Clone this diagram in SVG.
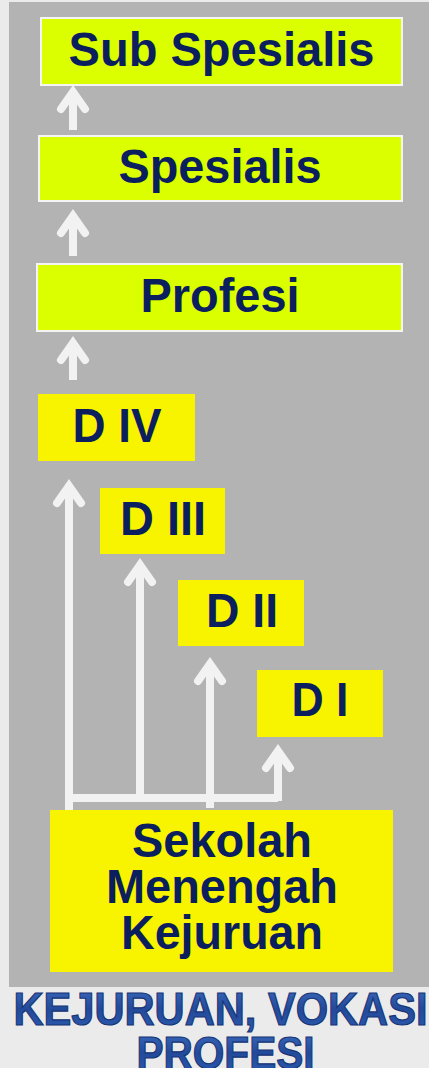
<svg xmlns="http://www.w3.org/2000/svg" width="429" height="1068" viewBox="0 0 429 1068">
  <style>
    .panel { fill: #b3b3b3; }
    .green { fill: #dcff00; stroke: #f4f4f4; stroke-width: 2; }
    .yellow { fill: #f8f400; }
    .lbl { font-family: "Liberation Sans", Arial, sans-serif; font-weight: bold; font-size: 48px; fill: #0b1f5e; text-anchor: middle; }
    .ttl { font-family: "Liberation Sans", Arial, sans-serif; font-weight: bold; font-size: 46px; fill: url(#titleFill); stroke: #163575; stroke-width: 1.2; text-anchor: middle; }
    .shaft { stroke: #f2f2f2; stroke-width: 8; fill: none; }
    .head { stroke: #f2f2f2; stroke-width: 8; fill: none; stroke-linecap: round; stroke-linejoin: miter; }
  </style>
  <defs>
    <linearGradient id="titleFill" x1="0" y1="0" x2="0" y2="1">
      <stop offset="0" stop-color="#3f6fc0"/>
      <stop offset="0.5" stop-color="#23499a"/>
      <stop offset="1" stop-color="#2c5cb0"/>
    </linearGradient>
    <path id="chev" class="head" d="M-12,17 L0,0 L12,17"/>
  </defs>

  <!-- page background and grey panel -->
  <rect x="0" y="0" width="429" height="1068" fill="#ebebeb"/>
  <rect class="panel" x="9" y="2" width="420" height="985"/>

  <!-- connectors -->
  <g id="connectors">
    <!-- stacked arrows up the professional track -->
    <line class="shaft" x1="73" y1="94" x2="73" y2="130"/>
    <use href="#chev" x="73" y="92"/>
    <line class="shaft" x1="73" y1="218" x2="73" y2="256"/>
    <use href="#chev" x="73" y="216"/>
    <line class="shaft" x1="73" y1="345" x2="73" y2="380"/>
    <use href="#chev" x="73" y="343"/>

    <!-- branching arrows from the vocational school -->
    <polyline class="shaft" points="69,817 69,798 278,798"/>
    <line class="shaft" x1="69" y1="488" x2="69" y2="800"/>
    <use href="#chev" x="69" y="486"/>
    <line class="shaft" x1="140" y1="567" x2="140" y2="798"/>
    <use href="#chev" x="140" y="565"/>
    <line class="shaft" x1="210" y1="666" x2="210" y2="808"/>
    <use href="#chev" x="210" y="664"/>
    <line class="shaft" x1="278" y1="753" x2="278" y2="801"/>
    <use href="#chev" x="278" y="751"/>
  </g>

  <g id="sub-spesialis">
    <rect class="green" x="41" y="18" width="361" height="67"/>
    <text class="lbl" x="221.5" y="66" textLength="306" lengthAdjust="spacingAndGlyphs">Sub Spesialis</text>
  </g>

  <g id="spesialis">
    <rect class="green" x="39" y="136" width="363" height="65"/>
    <text class="lbl" x="220" y="183" textLength="203" lengthAdjust="spacingAndGlyphs">Spesialis</text>
  </g>

  <g id="profesi">
    <rect class="green" x="37" y="264" width="365" height="67"/>
    <text class="lbl" x="220" y="312" textLength="159" lengthAdjust="spacingAndGlyphs">Profesi</text>
  </g>

  <g id="d4">
    <rect class="yellow" x="38" y="394" width="157" height="67"/>
    <text class="lbl" x="117" y="442" textLength="89" lengthAdjust="spacingAndGlyphs">D IV</text>
  </g>

  <g id="d3">
    <rect class="yellow" x="100" y="488" width="125" height="66"/>
    <text class="lbl" x="163" y="535" textLength="86" lengthAdjust="spacingAndGlyphs">D III</text>
  </g>

  <g id="d2">
    <rect class="yellow" x="178" y="580" width="126" height="66"/>
    <text class="lbl" x="242" y="627" textLength="72" lengthAdjust="spacingAndGlyphs">D II</text>
  </g>

  <g id="d1">
    <rect class="yellow" x="257" y="670" width="126" height="67"/>
    <text class="lbl" x="320" y="716" textLength="57" lengthAdjust="spacingAndGlyphs">D I</text>
  </g>

  <g id="smk">
    <rect class="yellow" x="50" y="810" width="343" height="162"/>
    <text class="lbl" x="222" y="857" textLength="180" lengthAdjust="spacingAndGlyphs">Sekolah</text>
    <text class="lbl" x="222" y="903" textLength="232" lengthAdjust="spacingAndGlyphs">Menengah</text>
    <text class="lbl" x="222" y="949" textLength="202" lengthAdjust="spacingAndGlyphs">Kejuruan</text>
  </g>

  <!-- caption -->
  <g id="caption">
    <text class="ttl" x="220.5" y="1025" textLength="414" lengthAdjust="spacingAndGlyphs">KEJURUAN, VOKASI</text>
    <text class="ttl" x="225.5" y="1069" textLength="178" lengthAdjust="spacingAndGlyphs">PROFESI</text>
  </g>
</svg>
